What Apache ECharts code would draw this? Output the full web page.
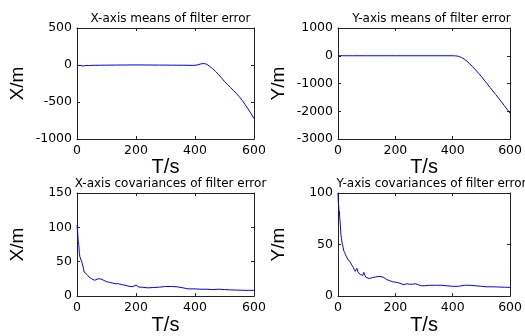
<!DOCTYPE html>
<html><head><meta charset="utf-8">
<script src="https://cdn.jsdelivr.net/npm/echarts@6/dist/echarts.min.js"></script>
<style>html,body{margin:0;padding:0;background:#fff}#c{width:525px;height:336px}</style>
</head><body><div id="c"></div>
<script>
const timeTicks = [0, 200, 400, 600];
const xMeanTicks = [-1000, -500, 0, 500];
const yMeanTicks = [-3000, -2000, -1000, 0, 1000];
const xCovTicks = [0, 50, 100, 150];
const yCovTicks = [0, 50, 100];

const titles = ["X-axis means of filter error", "Y-axis means of filter error",
                "X-axis covariances of filter error", "Y-axis covariances of filter error"];
const yNames = ["X/m", "Y/m", "X/m", "Y/m"];
const xName = "T/s";

const xMeanT = [0,5,10,15,20,25,30,40,50,60,80,100,130,160,200,240,280,320,360,390,400,410,420,430,440,450,460,470,480,490,500,510,520,530,540,550,560,570,580,590,600];
const xMeanV = [-8,-12,-5,-10,-14,-9,-7,-8,-5,-4,-3,-2,-1,0,1,0,-1,-2,-3,-5,-4,3,15,20,10,-20,-50,-88,-130,-175,-222,-262,-302,-342,-383,-428,-478,-535,-595,-658,-725];

const yMeanT = [0,3,8,20,50,100,200,300,400,410,420,430,440,450,460,470,480,490,500,510,520,530,540,550,560,570,580,590,600];
const yMeanV = [0,30,5,0,0,0,0,0,0,-5,-20,-60,-120,-200,-300,-400,-510,-630,-750,-880,-1010,-1140,-1270,-1400,-1530,-1660,-1800,-1935,-2080];

const xCovT = [0,2,4,6,8,10,12,14,16,18,20,22,24,26,28,30,35,40,45,50,55,60,65,70,75,80,90,100,110,120,130,140,150,160,170,180,190,195,200,205,210,220,240,260,280,300,320,340,360,370,380,400,420,440,460,480,500,520,540,560,580,600];
const xCovV = [103,95,80,75,62,57,56,55,50,47,45,40,35,34,33,33,31,28,27,25,24,23,24,25,27,25,23,21,20,19,18,18,17,16,15,14,14,15,16,14,13,13,12,12.5,13,14,14,13.5,12,11,10.5,10.5,10,10,9.5,10,9.5,9,8.8,8.5,8.3,8.5];

const yCovT = [0,1,2,3,4,5,6,8,10,12,14,16,18,20,22,24,26,28,30,33,36,40,43,46,50,53,56,60,63,66,70,74,78,82,86,90,94,98,102,110,120,130,140,150,160,170,180,190,200,210,220,230,240,250,260,270,280,290,300,320,340,360,380,400,420,440,460,480,500,520,540,560,580,600];
const yCovV = [100,92,88,85,80,82,76,70,60,56,52,50,47,44,45,42,40,41,38,37,35,36,33,31,32,28,26,24,25,27,23,22,21,22,20,23,20,18,17,17,18,18.5,19,19,18,16,15,14,13.5,13,12,11,12,11.5,11.5,12,11,10,10,10.5,10.5,10.5,10,9.5,9.5,10.5,10.5,10,9.5,9,9,8.8,8.6,8.5];

const zip = (t, v) => t.map((x, i) => [x, v[i]]);
const panels = [
  {t: xMeanT, v: xMeanV, yt: xMeanTicks},
  {t: yMeanT, v: yMeanV, yt: yMeanTicks},
  {t: xCovT, v: xCovV, yt: xCovTicks},
  {t: yCovT, v: yCovV, yt: yCovTicks}
];
const boxes = [
  {left: 77, top: 28, width: 177, height: 111},
  {left: 338, top: 28, width: 177, height: 111},
  {left: 77, top: 193, width: 177, height: 110},
  {left: 338, top: 193, width: 177, height: 110}
];
const tickFont = {fontFamily: 'DejaVu Sans', fontSize: 12.5, color: '#000', formatter: v => String(v)};
const lineCol = '#222';

const grid = [], xAxis = [], yAxis = [], series = [], title = [];
panels.forEach((p, i) => {
  const b = boxes[i];
  grid.push(Object.assign({containLabel: false}, b));
  const xt = timeTicks, yt = p.yt;
  const xi = xt[1] - xt[0], yi = yt[1] - yt[0];
  const baseX = {gridIndex: i, type: 'value', min: xt[0], max: xt[xt.length-1], interval: xi,
    splitLine: {show: false}, axisLine: {show: true, onZero: false, lineStyle: {color: lineCol, width: 1}},
    axisTick: {show: true, inside: true, length: 3, lineStyle: {color: lineCol}}};
  const baseY = {gridIndex: i, type: 'value', min: yt[0], max: yt[yt.length-1], interval: yi,
    splitLine: {show: false}, axisLine: {show: true, onZero: false, lineStyle: {color: lineCol, width: 1}},
    axisTick: {show: true, inside: true, length: 3, lineStyle: {color: lineCol}}};
  xAxis.push(Object.assign({}, baseX, {position: 'bottom',
    axisLabel: Object.assign({margin: 5}, tickFont),
    name: xName, nameLocation: 'middle', nameGap: 17,
    nameTextStyle: {fontFamily: 'Liberation Sans', fontSize: 20, color: '#000', verticalAlign: 'top'}}));
  xAxis.push(Object.assign({}, baseX, {position: 'top', axisLabel: {show: false}}));
  yAxis.push(Object.assign({}, baseY, {position: 'left',
    axisLabel: Object.assign({margin: 5}, tickFont),
    name: yNames[i], nameLocation: 'middle', nameGap: 50,
    nameTextStyle: {fontFamily: 'Liberation Sans', fontSize: 19, color: '#000'}}));
  yAxis.push(Object.assign({}, baseY, {position: 'right', axisLabel: {show: false}}));
  series.push({type: 'line', xAxisIndex: 2*i, yAxisIndex: 2*i, data: zip(p.t, p.v),
    showSymbol: false, symbol: 'none', lineStyle: {color: '#0000ff', width: 1}, itemStyle: {color: '#0000ff'}});
  title.push({text: titles[i], left: b.left + b.width/2, top: b.top - 20, textAlign: 'center',
    textStyle: {fontFamily: 'DejaVu Sans', fontSize: 12, fontWeight: 'normal', color: '#000'}});
});

const chart = echarts.init(document.getElementById('c'), null, {renderer: 'canvas'});
chart.setOption({animation: false, backgroundColor: '#fff', title, grid, xAxis, yAxis, series});
</script></body></html>
